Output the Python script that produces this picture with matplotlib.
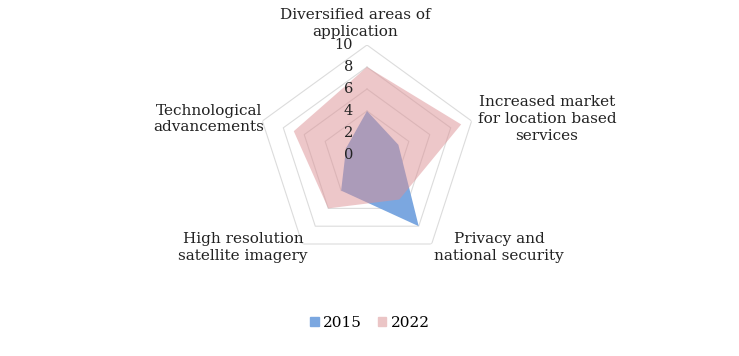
import numpy as np
import matplotlib
matplotlib.use('Agg')
import matplotlib.pyplot as plt
from matplotlib.patches import Patch

categories = ['Diversified areas of\napplication',
              'Increased market\nfor location based\nservices',
              'Privacy and\nnational security',
              'High resolution\nsatellite imagery',
              'Technological\nadvancements']
v2015 = [4, 3, 8, 4, 2]
v2022 = [8, 9, 5, 6, 7]
ticks = [0, 2, 4, 6, 8, 10]

plt.rcParams['font.family'] = ['DejaVu Serif']
W, H = 739, 356
fig = plt.figure(figsize=(W / 100, H / 100), dpi=100)

cx, cy, R = 367, 155, 110
ax = fig.add_axes([(cx - R) / W, (H - cy - R) / H, 2 * R / W, 2 * R / H], polar=True)

n = len(categories)
ang = [np.pi / 2 - 2 * np.pi * i / n for i in range(n)]
ang_c = ang + ang[:1]

# pentagon grid
for t in ticks[1:]:
    ax.plot(ang_c, [t] * (n + 1), color='#dcdcdc', lw=0.8, zorder=1)

blue = '#7ba7e0'
pink = '#dc9094'
ax.fill(ang_c, v2015 + v2015[:1], color=blue, alpha=1.0, lw=0, zorder=2)
ax.fill(ang_c, v2022 + v2022[:1], color=pink, alpha=0.5, lw=0, zorder=3)

ax.set_ylim(0, 10)
ax.grid(False)
ax.set_xticks([])
ax.set_yticks([])
ax.spines['polar'].set_visible(False)

# radial tick labels
for t in ticks:
    ax.annotate(str(t), xy=(np.pi / 2, t), xytext=(-10, 0), textcoords='offset points',
                ha='right', va='center', fontsize=10.5, color='#222222', zorder=5)

def ftxt(x, y, s, **kw):
    fig.text(x / W, 1 - y / H, s, fontsize=11, color='#222222', linespacing=1.25, **kw)

ftxt(355, 39, categories[0], ha='center', va='bottom', multialignment='center')
ftxt(547, 119, categories[1], ha='center', va='center', multialignment='center')
ftxt(499, 232, categories[2], ha='center', va='top', multialignment='center')
ftxt(243, 232, categories[3], ha='center', va='top', multialignment='center')
ftxt(209, 119, categories[4], ha='center', va='center', multialignment='center')

handles = [Patch(color=blue, label='2015'), Patch(color='#ebc5c6', label='2022')]
fig.legend(handles=handles, loc='center', bbox_to_anchor=(370 / W, 1 - 323 / H), ncol=2,
           frameon=False, fontsize=11, handlelength=0.55, handleheight=0.55,
           handletextpad=0.3, columnspacing=1.0)

fig.savefig('out.png', dpi=100)
